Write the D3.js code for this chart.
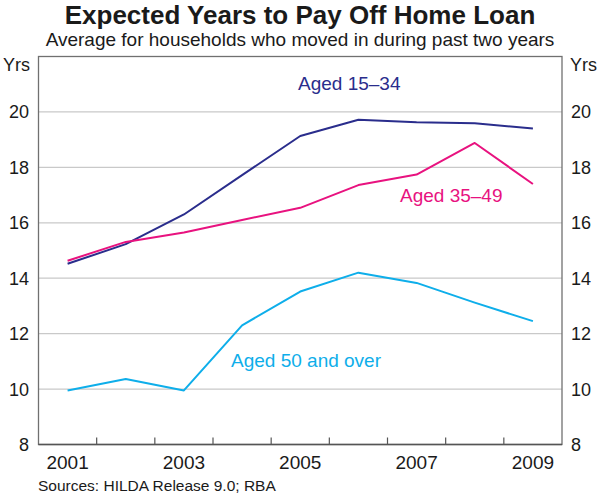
<!DOCTYPE html>
<html>
<head>
<meta charset="utf-8">
<script src="https://cdn.jsdelivr.net/npm/d3@7"></script>
<style>
  html, body { margin: 0; padding: 0; background: #fff; }
  svg { display: block; }
  text { font-family: "Liberation Sans", Arial, sans-serif; fill: #1a1a1a; }
</style>
</head>
<body>
<svg id="chart" width="600" height="497"></svg>
<script>
const years = ["2001","2002","2003","2004","2005","2006","2007","2008","2009"];
const yearLabels = ["2001","2003","2005","2007","2009"];
const aged1534 = [14.52, 15.23, 16.3, 17.72, 19.13, 19.72, 19.63, 19.59, 19.4];
const aged3549 = [14.63, 15.31, 15.65, 16.1, 16.54, 17.36, 17.74, 18.88, 17.4];
const aged50 = [9.95, 10.36, 9.95, 12.3, 13.52, 14.2, 13.83, 13.12, 12.45];
const yTicks = [8, 10, 12, 14, 16, 18, 20];
const gridTicks = [10, 12, 14, 16, 18, 20];

const series = [
  { name: "Aged 15–34", values: aged1534, color: "#2a2d8c", lx: 298, ly: 90 },
  { name: "Aged 35–49", values: aged3549, color: "#e8127f", lx: 400, ly: 202 },
  { name: "Aged 50 and over", values: aged50, color: "#0eaeea", lx: 231, ly: 367 }
];

const svg = d3.select("#chart");
const L = 38.5, R = 562, T = 56.5, B = 444.5;

const x = d3.scaleBand().domain(years).range([L, R]);
const y = d3.scaleLinear().domain([8, 22]).range([B, T]);

// Title
svg.append("text").attr("x", 300).attr("y", 24).attr("text-anchor", "middle")
  .style("font-size", "26px").style("font-weight", "bold")
  .text("Expected Years to Pay Off Home Loan");
svg.append("text").attr("x", 300).attr("y", 46).attr("text-anchor", "middle")
  .style("font-size", "19px")
  .text("Average for households who moved in during past two years");

// Gridlines
svg.append("g").selectAll("line").data(gridTicks).join("line")
  .attr("x1", L).attr("x2", R)
  .attr("y1", d => y(d)).attr("y2", d => y(d))
  .attr("stroke", "#c9c9c9").attr("stroke-width", 1.2);

// Bottom ticks at band boundaries
const boundaries = years.slice(1).map(d => x(d));
svg.append("g").selectAll("line").data(boundaries).join("line")
  .attr("x1", d => d).attr("x2", d => d)
  .attr("y1", B).attr("y2", B - 7)
  .attr("stroke", "#555").attr("stroke-width", 1.2);

// Frame
svg.append("rect").attr("x", L).attr("y", T).attr("width", R - L).attr("height", B - T)
  .attr("fill", "none").attr("stroke", "#707070").attr("stroke-width", 1.3);
svg.append("line").attr("x1", L).attr("x2", R).attr("y1", B).attr("y2", B)
  .attr("stroke", "#555").attr("stroke-width", 1.4);

// Y labels
const yl = svg.append("g");
yl.selectAll("text.l").data(yTicks).join("text").attr("class", "l")
  .attr("x", 29).attr("y", d => y(d)).attr("dy", "0.36em")
  .attr("text-anchor", "end").style("font-size", "18px").text(d => d);
yl.selectAll("text.r").data(yTicks).join("text").attr("class", "r")
  .attr("x", 571).attr("y", d => y(d)).attr("dy", "0.36em")
  .attr("text-anchor", "start").style("font-size", "18px").text(d => d);
yl.append("text").attr("x", 30).attr("y", 71).attr("text-anchor", "end")
  .style("font-size", "18px").text("Yrs");
yl.append("text").attr("x", 570).attr("y", 71).attr("text-anchor", "start")
  .style("font-size", "18px").text("Yrs");

// X labels
svg.append("g").selectAll("text").data(yearLabels).join("text")
  .attr("x", d => x(d) + x.bandwidth() / 2).attr("y", 469)
  .attr("text-anchor", "middle").style("font-size", "19px").text(d => d);

// Lines
const line = d3.line().x((d, i) => x(years[i]) + x.bandwidth() / 2).y(d => y(d));
series.forEach(s => {
  svg.append("path").datum(s.values).attr("d", line)
    .attr("fill", "none").attr("stroke", s.color).attr("stroke-width", 2)
    .attr("stroke-linejoin", "round");
  svg.append("text").attr("x", s.lx).attr("y", s.ly)
    .style("font-size", "19px").style("fill", s.color).text(s.name);
});

// Source
svg.append("text").attr("x", 38).attr("y", 491)
  .style("font-size", "15.5px").text("Sources: HILDA Release 9.0; RBA");
</script>
</body>
</html>
